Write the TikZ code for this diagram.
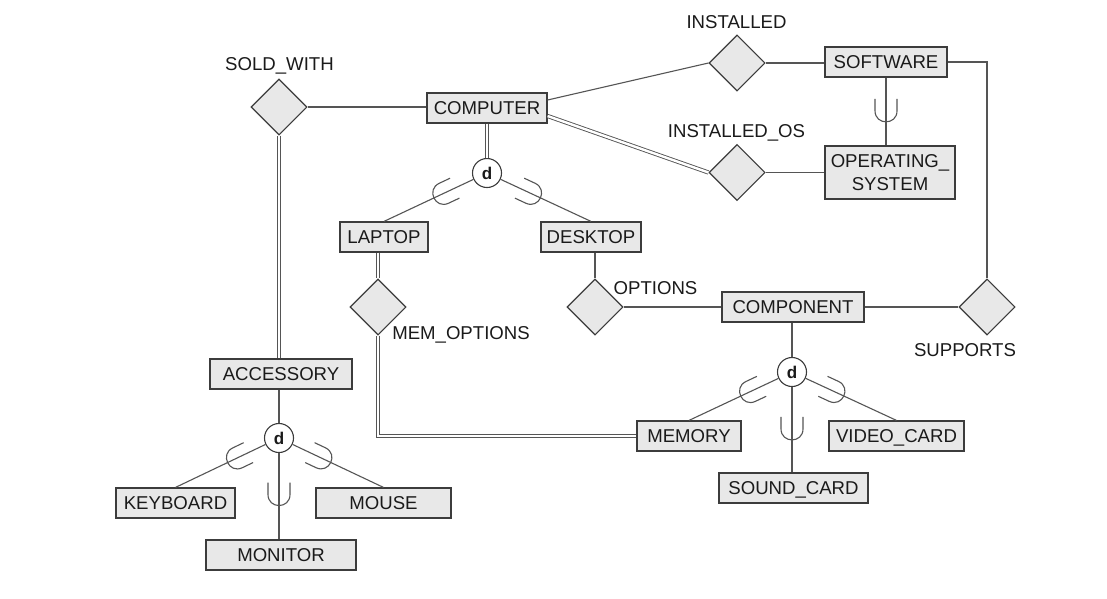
\documentclass[tikz,border=0pt]{standalone}
\usepackage{fontspec}
\setmainfont{Liberation Sans}
\usetikzlibrary{shapes.geometric}
\definecolor{boxfill}{HTML}{E8E8E8}
\definecolor{boxline}{HTML}{3C3C3C}
\definecolor{conn}{HTML}{555555}
\definecolor{txt}{HTML}{1A1A1A}
\begin{document}
\begin{tikzpicture}[x=1pt,y=-1pt,
  ent/.style={draw=boxline, fill=boxfill, line width=1.2pt, inner sep=0pt, minimum height=30pt,
    text=txt, font=\fontsize{18.6}{22}\selectfont, text height=13.3pt, text depth=0pt},
  rel/.style={diamond, draw=boxline, fill=boxfill, line width=1.1pt, inner sep=0pt, minimum width=56pt, minimum height=56pt},
  dcirc/.style={circle, draw=boxline, fill=white, line width=1.1pt, inner sep=0pt, minimum size=29pt,
    text=txt, font=\fontsize{17}{20}\selectfont\bfseries},
  lbl/.style={inner sep=0pt, text=txt, font=\fontsize{18.6}{22}\selectfont, text height=13.3pt, text depth=0pt},
  line/.style={draw=conn, line width=1.1pt},
  dbl/.style={draw=conn, line width=0.9pt, double=white, double distance=2.4pt},
  subset/.pic={\draw[line] (-12,-11) -- (0,-11) .. controls (14.7,-11) and (14.7,11) .. (0,11) -- (-12,11);}
]
\useasboundingbox (0,0) rectangle (1107,598);
\fill[white] (0,0) rectangle (1107,598);

% entities
\node[ent, minimum width=120pt] (computer) at (487,108) {COMPUTER};
\node[ent, minimum width=122pt] (software) at (886,62) {SOFTWARE};
\node[draw=boxline, fill=boxfill, line width=1.2pt, inner sep=0pt, minimum width=130pt, minimum height=53pt,
  text=txt, font=\fontsize{18.6}{23.5}\selectfont, align=center] (os) at (890,172.5) {OPERATING\_\\SYSTEM};
\node[ent, minimum width=88pt] (laptop) at (384,237) {LAPTOP};
\node[ent, minimum width=100pt] (desktop) at (591,237) {DESKTOP};
\node[ent, minimum width=142pt] (component) at (793,307) {COMPONENT};
\node[ent, minimum width=142pt] (accessory) at (281,374) {ACCESSORY};
\node[ent, minimum width=104pt] (memory) at (689,436) {MEMORY};
\node[ent, minimum width=135pt] (videocard) at (896.5,436) {VIDEO\_CARD};
\node[ent, minimum width=149pt] (soundcard) at (793.5,488) {SOUND\_CARD};
\node[ent, minimum width=119pt] (keyboard) at (175.5,503) {KEYBOARD};
\node[ent, minimum width=135pt] (mouse) at (383.5,503) {MOUSE};
\node[ent, minimum width=150pt] (monitor) at (281,555) {MONITOR};

% relationships
\node[rel] (sold) at (279,107) {};
\node[rel] (installed) at (737,63) {};
\node[rel] (instos) at (737,172.5) {};
\node[rel] (memopt) at (378,307) {};
\node[rel] (options) at (595,307) {};
\node[rel] (supports) at (987,307) {};

% labels
\node[lbl] (soldlbl) at (279.5,64) {SOLD\_WITH};
\node[lbl] (instlbl) at (736.5,21.5) {INSTALLED};
\node[lbl] (instoslbl) at (736.5,130.5) {INSTALLED\_OS};
\node[lbl] (optlbl) at (655.5,288) {OPTIONS};
\node[lbl] (memoptlbl) at (461,332.5) {MEM\_OPTIONS};
\node[lbl] (suplbl) at (965,349.5) {SUPPORTS};

% specialization circles
\node[dcirc] (d1) at (487,173) {d};
\node[dcirc] (d2) at (279,438) {d};
\node[dcirc] (d3) at (792,372) {d};

% connectors
\draw[line] (sold.east) -- (sold.east -| computer.west);
\draw[dbl] (sold.south) -- (sold.south |- accessory.north);
\draw[line] ([yshift=8pt]computer.east) -- (installed.west);
\draw[dbl] ([yshift=-8pt]computer.east) -- (instos.west);
\draw[line] (installed.east) -- (installed.east -| software.west);
\draw[line] (instos.east) -- (instos.east -| os.west);
\draw[line] (software.south) -- (software.south |- os.north) pic[pos=0.49, sloped, allow upside down] {subset};
\draw[line] (software.east) -| (supports.north);
\draw[dbl] (computer.south) -- (d1.north);
\draw[line] (d1) -- (laptop.north) pic[pos=0.33, sloped, allow upside down] {subset};
\draw[line] (d1) -- (desktop.north) pic[pos=0.33, sloped, allow upside down] {subset};
\draw[line] (options.north |- desktop.south) -- (options.north);
\draw[line] (options.east) -- (options.east -| component.west);
\draw[line] (component.east) -- (component.east -| supports.west);
\draw[line] (d3.north |- component.south) -- (d3.north);
\draw[dbl] (memopt.north |- laptop.south) -- (memopt.north);
\draw[dbl] (memopt.south) |- (memory.west);
\draw[line] (d2.north |- accessory.south) -- (d2.north);
\draw[line] (d2) -- (keyboard.north) pic[pos=0.31, sloped, allow upside down] {subset};
\draw[line] (d2) -- (mouse.north) pic[pos=0.31, sloped, allow upside down] {subset};
\draw[line] (d2.south) -- (d2.south |- monitor.north) pic[pos=0.48, sloped, allow upside down] {subset};
\draw[line] (d3) -- (memory.north) pic[pos=0.31, sloped, allow upside down] {subset};
\draw[line] (d3) -- (videocard.north) pic[pos=0.31, sloped, allow upside down] {subset};
\draw[line] (d3.south) -- (d3.south |- soundcard.north) pic[pos=0.49, sloped, allow upside down] {subset};
\end{tikzpicture}
\end{document}
